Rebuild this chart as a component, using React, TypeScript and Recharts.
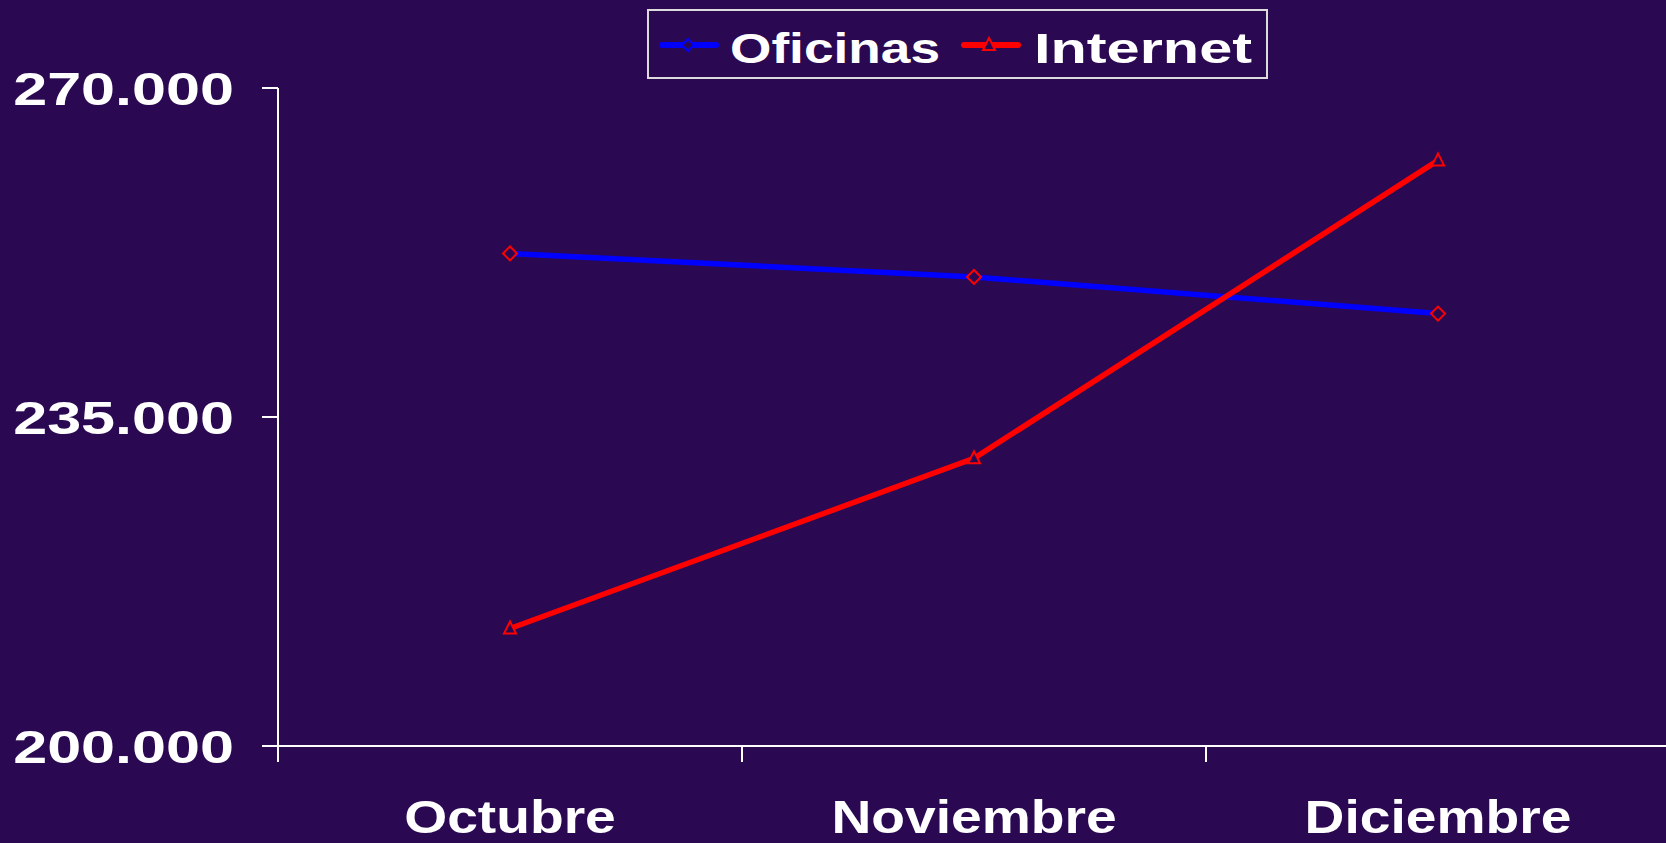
import React from 'react';
import { LineChart, Line, XAxis, YAxis, Legend } from 'recharts';

const months = ['Octubre', 'Noviembre', 'Diciembre'];
const oficinas = [252400, 249900, 246000];
const internet = [212500, 230600, 262300];
const yTicks = [200000, 235000, 270000];

const data = months.map((m, i) => ({ mes: m, Oficinas: oficinas[i], Internet: internet[i] }));

const BG = '#2b0852';
const FONT = "'Liberation Sans', Arial, sans-serif";
const W = 1680;
const H = 843;
const Y_W = 278;
const X_H = 97;
const margin = { top: 88, right: 10, bottom: 0, left: 0 };
const plotBottom = H - X_H;
const halfBand = (W - margin.left - margin.right - Y_W) / months.length / 2;

const fmt = (v: number) => v.toLocaleString('de-DE', { minimumFractionDigits: 0 });

const YTick = ({ y, payload }: any) => (
  <text
    transform={`translate(234,${y}) scale(1.3,1)`}
    textAnchor="end"
    dy="0.36em"
    fill="#ffffff"
    fontFamily={FONT}
    fontWeight="bold"
    fontSize={47}
  >
    {fmt(payload.value)}
  </text>
);

const XTick = ({ x, payload }: any) => (
  <g>
    <line x1={x - halfBand} x2={x - halfBand} y1={plotBottom} y2={plotBottom + 16} stroke="#ffffff" strokeWidth={2} />
    <text
      transform={`translate(${x},${plotBottom + 87}) scale(1.2,1)`}
      textAnchor="middle"
      fill="#ffffff"
      fontFamily={FONT}
      fontWeight="bold"
      fontSize={46}
    >
      {payload.value}
    </text>
  </g>
);

const diamond = (cx: number, cy: number, r: number) => `M${cx},${cy - r}L${cx + r},${cy}L${cx},${cy + r}L${cx - r},${cy}Z`;
const triangle = (cx: number, cy: number) => `M${cx},${cy - 7}L${cx + 6},${cy + 5}L${cx - 6},${cy + 5}Z`;

const DiamondDot = (p: any) => (
  <path key={`o-${p.index}`} d={diamond(p.cx, p.cy, 7)} fill={BG} stroke="#ff0000" strokeWidth={2} />
);
const TriangleDot = (p: any) => (
  <path key={`i-${p.index}`} d={triangle(p.cx, p.cy)} fill={BG} stroke="#ff0000" strokeWidth={2} />
);

const LegendBox = () => (
  <svg width={621} height={70} style={{ display: 'block' }}>
    <rect x={1} y={1} width={619} height={68} fill="none" stroke="#dcdcdc" strokeWidth={2} />
    <line x1={15} x2={69} y1={36} y2={36} stroke="#0000ff" strokeWidth={6} strokeLinecap="round" />
    <path d={diamond(41, 36, 6)} fill={BG} stroke="#0000ff" strokeWidth={2} />
    <text x={83} y={54} fill="#ffffff" fontFamily={FONT} fontWeight="bold" fontSize={43} textLength={210} lengthAdjust="spacingAndGlyphs">
      Oficinas
    </text>
    <line x1={317} x2={371} y1={36} y2={36} stroke="#ff0000" strokeWidth={6} strokeLinecap="round" />
    <path d={triangle(342, 36)} fill={BG} stroke="#ff0000" strokeWidth={2} />
    <text x={387} y={54} fill="#ffffff" fontFamily={FONT} fontWeight="bold" fontSize={43} textLength={218} lengthAdjust="spacingAndGlyphs">
      Internet
    </text>
  </svg>
);

export default function App() {
  return (
    <div style={{ position: 'fixed', left: 0, top: 0, width: 1666, height: 843, overflow: 'hidden', background: BG }}>
      <LineChart width={W} height={H} data={data} margin={margin}>
        <XAxis
          dataKey="mes"
          scale="band"
          height={X_H}
          axisLine={{ stroke: '#ffffff', strokeWidth: 2 }}
          tickLine={false}
          tick={<XTick />}
          interval={0}
        />
        <YAxis
          width={Y_W}
          domain={[200000, 270000]}
          ticks={yTicks}
          tickSize={16}
          axisLine={{ stroke: '#ffffff', strokeWidth: 2 }}
          tickLine={{ stroke: '#ffffff', strokeWidth: 2 }}
          tick={<YTick />}
        />
        <Legend
          layout="horizontal"
          verticalAlign="middle"
          align="center"
          wrapperStyle={{ position: 'absolute', left: 647, top: 9, width: 621, height: 70 }}
          content={() => <LegendBox />}
        />
        <Line
          dataKey="Oficinas"
          stroke="#0000ff"
          strokeWidth={5.5}
          dot={DiamondDot}
          activeDot={false}
          isAnimationActive={false}
        />
        <Line
          dataKey="Internet"
          stroke="#ff0000"
          strokeWidth={5.5}
          dot={TriangleDot}
          activeDot={false}
          isAnimationActive={false}
        />
      </LineChart>
    </div>
  );
}
